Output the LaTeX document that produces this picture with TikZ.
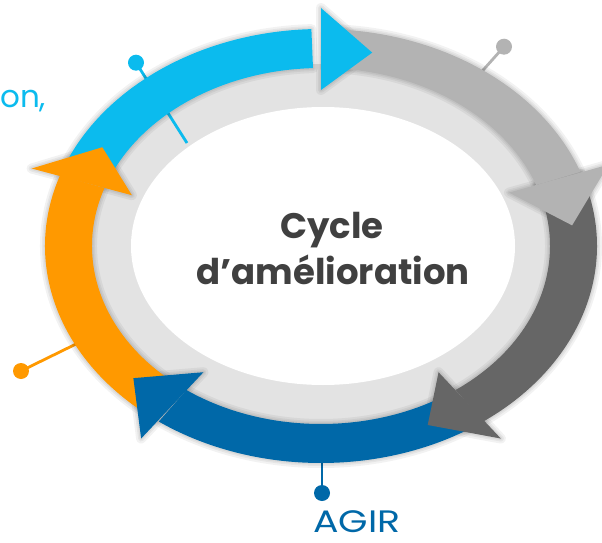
\documentclass[tikz,border=0pt]{standalone}
\usepackage{fontspec}
\usepackage{graphicx}
\setmainfont{Poppins}
\usetikzlibrary{calc}
\definecolor{cyanA}{HTML}{0BBBEE}
\definecolor{grayA}{HTML}{B3B3B3}
\definecolor{grayB}{HTML}{666666}
\definecolor{blueA}{HTML}{0068A8}
\definecolor{orangeA}{HTML}{FF9900}
\definecolor{ringA}{HTML}{E3E3E3}
\definecolor{textA}{HTML}{404040}
% ribbon shaft between outer (276,217) and inner (229,178) ellipses
\newcommand\rbshaft[3]{%
  \path[#1] ($(C)+(#2:276 and 217)$) arc[start angle=#2, end angle=#3, x radius=276, y radius=217]
    -- ($(C)+(#3:229 and 178)$) arc[start angle=#3, end angle=#2, x radius=229, y radius=178] -- cycle;}
% arrow head: base at angle #2, tip at angle #3
\newcommand\rbhead[3]{%
  \path[#1] ($(C)+(#2:306 and 238)$) -- ($(C)+(#3:252.5 and 197.5)$) -- ($(C)+(#2:200 and 156)$) -- cycle;}
\begin{document}
\begin{tikzpicture}[x=1pt,y=1pt,
  shd/.style={draw=black, draw opacity=0.05, line width=#1, line join=round, shift={(1,-2)}},
  pinline/.style={line width=2.8pt},
  pindot/.style={circle, fill=#1, minimum size=16pt, inner sep=0pt},
  title/.style={font=\bfseries\fontsize{35.5}{35.5}\selectfont, text=textA, anchor=base, inner sep=0pt},
  hand/.style={font=\fontsize{31}{31}\selectfont, anchor=base west, inner sep=0pt}]
\useasboundingbox (0,0) rectangle (602,542);
\clip (0,0) rectangle (602,542);
\fill[white] (0,0) rectangle (602,542);
\coordinate (C) at (321,296);
% inner rings
\fill[ringA] (C) ellipse [x radius=234, y radius=182];
\fill[white] (323,296) ellipse [x radius=192, y radius=139];
% pins (under the ribbons)
\node[pindot=cyanA] (dc) at (136,479.3) {};
\coordinate (ec) at (187,399);
\draw[pinline, cyanA] (dc.center) -- (ec);
\node[pindot=grayA] (dg) at (504,495.3) {};
\coordinate (eg) at (468,455);
\draw[pinline, grayA] (dg.center) -- (eg);
\node[pindot=orangeA] (do) at (21,171) {};
\coordinate (eo) at (95,207.3);
\draw[pinline, orangeA] (do.center) -- (eo);
\node[pindot=blueA] (db) at (322,49) {};
\coordinate (eb) at (322,100);
\draw[pinline, blueA] (db.center) -- (eb);
% soft shadows
\foreach \w in {10,6,3}{
  \rbshaft{shd=\w}{158}{92}
  \rbshaft{shd=\w}{89}{20}
  \rbshaft{shd=\w}{19.5}{-54}
  \rbshaft{shd=\w}{-56}{-126}
  \rbshaft{shd=\w}{-128}{-199}
  \rbhead{shd=\w}{90}{78.3}
  \rbhead{shd=\w}{20}{6}
  \rbhead{shd=\w}{-54}{-65}
  \rbhead{shd=\w}{-126}{-138}
  \rbhead{shd=\w}{-199}{-210}
}
% shafts
\rbshaft{fill=cyanA}{158}{92}
\rbshaft{fill=grayA}{89}{20}
\rbshaft{fill=grayB}{19.5}{-54}
\rbshaft{fill=blueA}{-56}{-126}
\rbshaft{fill=orangeA}{-128}{-199}
% heads
\rbhead{fill=cyanA}{90}{78.3}
\rbhead{fill=grayA}{20}{6}
\rbhead{fill=grayB}{-54}{-65}
\rbhead{fill=blueA}{-126}{-138}
\rbhead{fill=orangeA}{-199}{-210}
% texts
\node[title] (t1) at (332,304) {Cycle};
\node[title] (t2) at (333,258) {d’amélioration};
\node[hand, text=blueA] (agir) at (313,10) {\scalebox{1.22}[1]{AGIR}};
\node[hand, text=cyanA] (on) at (0,434) {on,};
\end{tikzpicture}
\end{document}
